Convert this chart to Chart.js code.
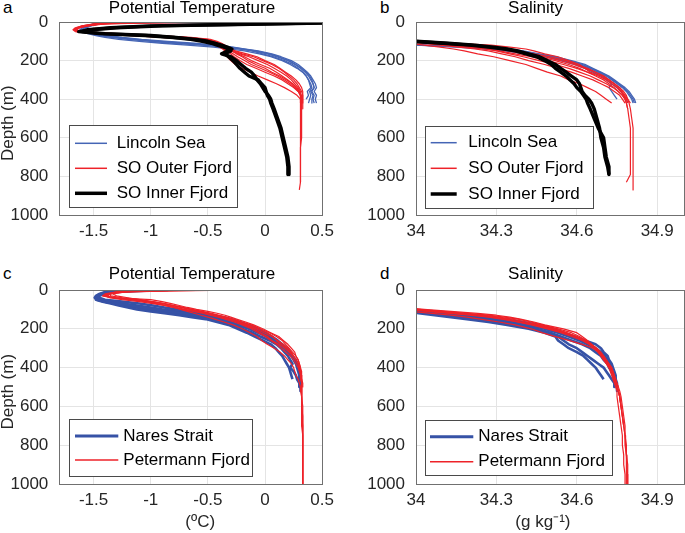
<!DOCTYPE html>
<html>
<head>
<meta charset="utf-8">
<script src="https://cdn.jsdelivr.net/npm/chart.js@4/dist/chart.umd.min.js"></script>
<style>
  html, body { margin:0; padding:0; background:#fff; }
  body { width:685px; height:533px; position:relative; overflow:hidden; font-family:"Liberation Sans", Arial, Helvetica, sans-serif; }
  canvas { position:absolute; }
  .letter { position:absolute; font-size:17px; line-height:17px; color:#000; }
</style>
</head>
<body>
<div class="letter" style="left:3px;top:-1px;">a</div>
<div class="letter" style="left:380px;top:-1px;">b</div>
<div class="letter" style="left:3px;top:265px;">c</div>
<div class="letter" style="left:380px;top:265px;">d</div>
<canvas id="ca" width="340" height="245" style="left:0;top:0;"></canvas>
<canvas id="cb" width="345" height="245" style="left:340px;top:0;"></canvas>
<canvas id="cc" width="340" height="283" style="left:0;top:250px;"></canvas>
<canvas id="cd" width="345" height="283" style="left:340px;top:250px;"></canvas>
<script>
// ---------- tick values / labels ----------
const depthTicks = [0, 200, 400, 600, 800, 1000];
const depthTickLabels = ['0', '200', '400', '600', '800', '1000'];
const tempTicks = [-1.5, -1, -0.5, 0, 0.5];
const tempTickLabels = ['-1.5', '-1', '-0.5', '0', '0.5'];
const salTicks = [34, 34.3, 34.6, 34.9];
const salTickLabels = ['34', '34.3', '34.6', '34.9'];

// ---------- titles / legend labels ----------
const titleTemp = 'Potential Temperature';
const titleSal = 'Salinity';
const labelsTop = ['Lincoln Sea', 'SO Outer Fjord', 'SO Inner Fjord'];
const labelsBottom = ['Nares Strait', 'Petermann Fjord'];

// ---------- depth grids (m) ----------
const depthTop = [0,5,10,20,30,40,50,60,70,80,90,100,110,120,130,140,150,165,180,200,220,240,260,280,300,320,340,360,380,400,420,450,500,550,600,650,700,750,790,830,870];
const depthLow = [0,5,10,20,30,40,50,60,70,80,90,100,110,120,130,140,150,165,180,200,220,240,260,280,300,320,340,360,380,400,420,440,460,480,500,520,550,600,650,700,750,800,850,900,950,1000];

// ---------- Panel a: potential temperature (degC) ----------
const lincolnTemp1 = [0.6,-1.35,-1.45,-1.52,-1.57,-1.6,-1.58,-1.52,-1.45,-1.35,-1.2,-1.0,-0.8,-0.55,-0.35,-0.22,-0.1,0.02,0.1,0.2,0.26,0.31,0.35,0.38,0.40,0.42,0.43,0.41,0.43,0.42,0.43];
const lincolnTemp2 = [-1.3,-1.4,-1.48,-1.55,-1.6,-1.62,-1.6,-1.55,-1.48,-1.4,-1.28,-1.1,-0.9,-0.68,-0.45,-0.3,-0.18,-0.05,0.05,0.15,0.22,0.28,0.33,0.36,0.38,0.40,0.41,0.39,0.40,0.39,0.38];
const lincolnTemp3 = [-1.4,-1.45,-1.5,-1.55,-1.58,-1.6,-1.56,-1.48,-1.38,-1.25,-1.08,-0.85,-0.62,-0.42,-0.28,-0.17,-0.06,0.06,0.14,0.23,0.29,0.33,0.37,0.40,0.42,0.44,0.45,0.43,0.45,0.44,0.45];
const lincolnTemp4 = [-1.25,-1.38,-1.46,-1.53,-1.57,-1.59,-1.57,-1.5,-1.42,-1.3,-1.15,-0.95,-0.72,-0.5,-0.32,-0.2,-0.12,-0.02,0.07,0.17,0.24,0.29,0.33,0.36,0.38,0.39,0.40,0.37,0.38,0.36];
const lincolnTemp5 = [-1.35,-1.42,-1.5,-1.56,-1.6,-1.61,-1.58,-1.5,-1.4,-1.28,-1.12,-0.92,-0.7,-0.48,-0.3,-0.18,-0.08,0.04,0.12,0.21,0.27,0.32,0.36,0.39,0.41,0.42,0.43,0.40,0.42,0.41,0.41];

const outerTemp1 = [-0.9,-1.3,-1.45,-1.58,-1.64,-1.67,-1.65,-1.45,-1.15,-0.85,-0.6,-0.5,-0.45,-0.42,-0.38,-0.34,-0.3,-0.22,-0.14,-0.06,0.02,0.08,0.14,0.19,0.23,0.26,0.29,0.31,0.31,0.31,0.31,0.31,0.31,0.31,0.31,0.31,0.31,0.31,0.31,0.31,0.30];
const outerTemp2 = [-1.2,-1.4,-1.5,-1.6,-1.66,-1.68,-1.66,-1.4,-1.05,-0.75,-0.55,-0.48,-0.44,-0.4,-0.37,-0.35,-0.33,-0.3,-0.27,-0.22,-0.16,-0.08,0.0,0.08,0.15,0.2,0.25,0.29,0.31,0.32,0.32,0.32,0.32,0.32,0.32,0.31,0.31,0.31,0.31,0.31];
const outerTemp3 = [0.0,-1.0,-1.4,-1.55,-1.62,-1.66,-1.62,-1.35,-1.0,-0.7,-0.5,-0.44,-0.4,-0.36,-0.33,-0.3,-0.27,-0.2,-0.1,-0.02,0.06,0.12,0.17,0.21,0.25,0.28,0.3,0.32,0.33,0.33,0.33];
const outerTemp4 = [-0.5,-1.2,-1.45,-1.57,-1.63,-1.66,-1.64,-1.5,-1.2,-0.9,-0.62,-0.52,-0.47,-0.43,-0.4,-0.37,-0.35,-0.34,-0.33,-0.3,-0.26,-0.2,-0.13,-0.06,0.02,0.1,0.17,0.23,0.28,0.31,0.32];
const outerTemp5 = [-1.1,-1.35,-1.48,-1.6,-1.65,-1.67,-1.63,-1.4,-1.1,-0.8,-0.58,-0.47,-0.42,-0.38,-0.34,-0.31,-0.28,-0.24,-0.18,-0.12,-0.04,0.04,0.1,0.15,0.2,0.24,0.27,0.3,0.32,0.32];
const outerTemp6 = [-0.3,-1.1,-1.42,-1.56,-1.62,-1.65,-1.6,-1.3,-0.95,-0.65,-0.48,-0.42,-0.38,-0.35,-0.32,-0.29,-0.26,-0.16,-0.07,0.0,0.08,0.13,0.18,0.23,0.27,0.3,0.32,0.33,0.33,0.33,0.33,0.33];
const outerTemp7 = [-1.0,-1.3,-1.47,-1.59,-1.64,-1.66,-1.64,-1.45,-1.12,-0.82,-0.57,-0.49,-0.46,-0.41,-0.39,-0.36,-0.32,-0.28,-0.24,-0.18,-0.12,-0.04,0.04,0.11,0.17,0.22,0.26,0.29,0.31,0.31,0.31];
const outerTemp8 = [-0.7,-1.25,-1.44,-1.57,-1.63,-1.66,-1.63,-1.38,-1.02,-0.72,-0.52,-0.45,-0.41,-0.37,-0.35,-0.32,-0.29,-0.25,-0.2,-0.15,-0.08,0.0,0.06,0.13,0.19,0.24,0.28,0.3,0.31,0.32,0.32];

const innerTemp1 = [0.8,0.5,0.0,-0.9,-1.3,-1.52,-1.63,-1.45,-1.05,-0.8,-0.65,-0.55,-0.47,-0.42,-0.36,-0.32,-0.3,-0.35,-0.32,-0.28,-0.25,-0.22,-0.18,-0.14,-0.06,-0.03,0.0,0.01,0.02,0.04,0.05,0.07,0.1,0.13,0.15,0.17,0.19,0.2,0.2];
const innerTemp2 = [0.8,0.4,-0.1,-1.0,-1.35,-1.55,-1.6,-1.4,-1.0,-0.78,-0.6,-0.5,-0.44,-0.38,-0.33,-0.29,-0.33,-0.38,-0.3,-0.25,-0.21,-0.17,-0.12,-0.09,-0.07,-0.04,-0.02,0.0,0.03,0.05,0.06,0.08,0.11,0.14,0.16,0.18,0.2,0.21,0.21];

// ---------- Panel b: salinity (g/kg) ----------
const lincolnSal1 = [31.8,32.1,32.4,32.8,33.0,33.2,33.35,33.5,33.6,33.7,33.8,33.88,33.95,34.02,34.2,34.3,34.37,34.44,34.5,34.56,34.61,34.65,34.68,34.71,34.73,34.75,34.77,34.785,34.795,34.805,34.81];
const lincolnSal2 = [31.8,32.1,32.4,32.8,33.0,33.2,33.35,33.5,33.6,33.7,33.8,33.88,33.94,34.0,34.15,34.26,34.33,34.41,34.48,34.54,34.59,34.63,34.66,34.69,34.71,34.73,34.75,34.765,34.775,34.785,34.79];
const lincolnSal3 = [31.8,32.1,32.4,32.8,33.0,33.2,33.35,33.5,33.6,33.7,33.8,33.88,33.96,34.04,34.24,34.33,34.39,34.45,34.51,34.57,34.62,34.655,34.685,34.715,34.735,34.755,34.775,34.79,34.8,34.81,34.815];
const lincolnSal4 = [31.8,32.1,32.4,32.8,33.0,33.2,33.35,33.5,33.6,33.7,33.8,33.88,33.95,34.01,34.18,34.28,34.35,34.43,34.49,34.55,34.6,34.64,34.67,34.7,34.72,34.73,34.72,34.73,34.74,34.75];
const lincolnSal5 = [32.0,32.2,32.5,32.8,33.0,33.2,33.35,33.5,33.6,33.7,33.8,33.88,33.95,34.03,34.25,34.34,34.4,34.46,34.52,34.58,34.63,34.66,34.69,34.72,34.74,34.76,34.78,34.795,34.805,34.815,34.82];

const outerSal1 = [32.0,32.3,32.6,32.9,33.1,33.3,33.45,33.6,33.72,33.82,33.92,33.98,34.08,34.17,34.25,34.31,34.36,34.42,34.48,34.54,34.59,34.63,34.67,34.7,34.72,34.74,34.76,34.77,34.78,34.79,34.795,34.8,34.805,34.81,34.81,34.81,34.81,34.81,34.81,34.81,34.81];
const outerSal2 = [32.0,32.3,32.6,32.9,33.1,33.3,33.45,33.6,33.72,33.82,33.9,33.96,34.04,34.12,34.2,34.26,34.31,34.37,34.43,34.49,34.55,34.6,34.64,34.67,34.7,34.72,34.74,34.755,34.77,34.78,34.785,34.79,34.795,34.8,34.8,34.8,34.8,34.8,34.8,34.785];
const outerSal3 = [32.2,32.5,32.8,33.1,33.3,33.5,33.62,33.74,33.84,33.92,33.97,34.0,34.14,34.28,34.35,34.41,34.44,34.48,34.53,34.57,34.61,34.63,34.65,34.69,34.72,34.74,34.76,34.775,34.785,34.79,34.8];
const outerSal4 = [32.0,32.2,32.5,32.8,33.0,33.2,33.35,33.5,33.62,33.72,33.82,33.9,33.97,34.03,34.09,34.14,34.18,34.23,34.29,34.35,34.41,34.45,34.49,34.54,34.57,34.61,34.64,34.67,34.69,34.71,34.73];
const outerSal5 = [32.1,32.4,32.7,33.0,33.2,33.4,33.55,33.68,33.78,33.87,33.94,34.0,34.1,34.2,34.27,34.33,34.38,34.44,34.5,34.56,34.6,34.64,34.67,34.7,34.72,34.74,34.755,34.765,34.775,34.78];
const outerSal6 = [32.1,32.4,32.7,33.0,33.2,33.4,33.55,33.68,33.78,33.87,33.94,34.0,34.06,34.13,34.2,34.26,34.3,34.35,34.4,34.46,34.52,34.57,34.61,34.65,34.68,34.71,34.735,34.755,34.77,34.78,34.785,34.79];
const outerSal7 = [32.0,32.3,32.6,32.9,33.1,33.3,33.45,33.6,33.72,33.82,33.9,33.97,34.05,34.16,34.24,34.3,34.35,34.4,34.46,34.52,34.57,34.61,34.64,34.68,34.71,34.73,34.75,34.765,34.775,34.785,34.79];
const outerSal8 = [32.0,32.3,32.6,32.9,33.1,33.3,33.45,33.6,33.72,33.82,33.9,33.95,34.02,34.09,34.16,34.22,34.27,34.32,34.37,34.42,34.48,34.53,34.58,34.62,34.66,34.69,34.72,34.74,34.76,34.77,34.78];

const innerSal1 = [32.6,32.7,32.8,33.0,33.2,33.35,33.5,33.62,33.72,33.82,33.92,33.99,34.1,34.2,34.27,34.33,34.37,34.41,34.45,34.48,34.505,34.52,34.54,34.56,34.575,34.59,34.6,34.615,34.625,34.635,34.64,34.65,34.665,34.68,34.70,34.705,34.71,34.72,34.72];
const innerSal2 = [32.6,32.7,32.8,33.0,33.2,33.35,33.5,33.62,33.72,33.82,33.9,34.0,34.12,34.22,34.29,34.34,34.38,34.42,34.46,34.49,34.52,34.54,34.56,34.58,34.6,34.61,34.615,34.62,34.63,34.645,34.655,34.665,34.675,34.685,34.69,34.7,34.705,34.715,34.72];

// ---------- Panel c: potential temperature (degC) ----------
const naresTemp1 = [-1.2,-1.3,-1.38,-1.44,-1.47,-1.48,-1.48,-1.42,-1.35,-1.28,-1.2,-1.12,-1.0,-0.88,-0.75,-0.64,-0.52,-0.42,-0.32,-0.24,-0.16,-0.09,-0.02,0.05,0.09,0.12,0.15,0.17,0.19,0.21,0.22,0.23,0.24];
const naresTemp2 = [-0.85,-1.1,-1.3,-1.4,-1.45,-1.47,-1.46,-1.4,-1.3,-1.18,-1.07,-0.96,-0.85,-0.72,-0.6,-0.5,-0.42,-0.32,-0.24,-0.14,-0.06,0.02,0.08,0.13,0.17,0.2,0.23,0.26,0.28,0.29,0.3,0.31,0.31,0.31,0.31,0.31];
const naresTemp3 = [-1.0,-1.2,-1.35,-1.42,-1.46,-1.45,-1.4,-1.25,-1.1,-0.98,-0.88,-0.78,-0.68,-0.58,-0.47,-0.36,-0.3,-0.22,-0.15,-0.06,0.0,0.06,0.11,0.15,0.19,0.22,0.24,0.27,0.28,0.29,0.3,0.3,0.31,0.31,0.31];
const naresTemp4 = [-1.1,-1.25,-1.35,-1.43,-1.46,-1.47,-1.45,-1.36,-1.25,-1.12,-1.0,-0.9,-0.78,-0.66,-0.55,-0.45,-0.37,-0.28,-0.2,-0.1,-0.02,0.04,0.1,0.14,0.18,0.21,0.23,0.25,0.27,0.28,0.29,0.3,0.3,0.31];
const naresTemp5 = [-1.26,-1.32,-1.4,-1.45,-1.48,-1.49,-1.47,-1.4,-1.32,-1.22,-1.12,-1.02,-0.92,-0.8,-0.66,-0.56,-0.46,-0.36,-0.28,-0.2,-0.11,-0.04,0.04,0.1,0.14,0.17,0.2,0.22,0.24,0.22,0.25,0.27,0.28,0.3,0.3];

const peterTemp1 = [-0.15,-0.8,-1.2,-1.38,-1.42,-1.3,-1.0,-0.9,-0.82,-0.75,-0.68,-0.6,-0.5,-0.42,-0.35,-0.3,-0.25,-0.17,-0.1,-0.02,0.05,0.12,0.16,0.2,0.23,0.26,0.27,0.29,0.3,0.31,0.31,0.32,0.32,0.32,0.32,0.32,0.32,0.33,0.33,0.33,0.33,0.33,0.33,0.33,0.33,0.33];
const peterTemp2 = [-0.5,-1.0,-1.25,-1.35,-1.38,-1.33,-1.2,-1.05,-0.95,-0.85,-0.77,-0.7,-0.6,-0.52,-0.45,-0.38,-0.32,-0.24,-0.16,-0.08,-0.01,0.06,0.11,0.16,0.2,0.23,0.25,0.27,0.29,0.3,0.31,0.31,0.32,0.32,0.32,0.32,0.32,0.32,0.33,0.33,0.33,0.33,0.33,0.33,0.33,0.33];
const peterTemp3 = [-1.0,-1.2,-1.3,-1.36,-1.35,-1.25,-1.1,-1.0,-0.9,-0.82,-0.74,-0.66,-0.58,-0.5,-0.42,-0.36,-0.3,-0.22,-0.15,-0.06,0.02,0.07,0.1,0.14,0.19,0.22,0.25,0.27,0.29,0.3,0.31,0.32,0.32,0.32,0.32,0.32,0.32,0.32];
const peterTemp4 = [-0.7,-1.1,-1.28,-1.33,-1.3,-1.2,-1.1,-1.02,-0.95,-0.88,-0.8,-0.74,-0.68,-0.62,-0.56,-0.5,-0.44,-0.36,-0.28,-0.2,-0.13,-0.07,-0.03,0.02,0.08,0.13,0.17,0.2,0.23,0.25,0.26,0.27,0.29,0.3,0.31,0.31,0.32,0.32,0.32,0.32,0.33,0.33,0.33,0.33,0.33,0.33];
const peterTemp5 = [-0.9,-1.15,-1.3,-1.4,-1.42,-1.35,-1.15,-1.0,-0.88,-0.8,-0.72,-0.64,-0.55,-0.47,-0.4,-0.34,-0.28,-0.2,-0.12,-0.04,0.04,0.1,0.15,0.18,0.21,0.24,0.27,0.29,0.3,0.31,0.32,0.32,0.32,0.33,0.33];
const peterTemp6 = [-0.3,-0.9,-1.22,-1.36,-1.4,-1.32,-1.12,-0.98,-0.88,-0.8,-0.72,-0.65,-0.57,-0.49,-0.42,-0.36,-0.3,-0.24,-0.18,-0.1,-0.04,0.02,0.06,0.12,0.17,0.21,0.24,0.27,0.29,0.3,0.31,0.31,0.32,0.32,0.32,0.32,0.32,0.32,0.32,0.33,0.33,0.33,0.33,0.33,0.33,0.33];
const peterTemp7 = [-0.6,-1.05,-1.27,-1.37,-1.4,-1.36,-1.25,-1.1,-0.98,-0.88,-0.8,-0.72,-0.63,-0.55,-0.48,-0.41,-0.35,-0.27,-0.2,-0.12,-0.06,0.0,0.05,0.1,0.14,0.18,0.22,0.25,0.27,0.29,0.3,0.31,0.31,0.32,0.32,0.32,0.32,0.32,0.32,0.32];

// ---------- Panel d: salinity (g/kg) ----------
const naresSal1 = [32.0,32.3,32.6,33.0,33.3,33.5,33.62,33.72,33.8,33.86,33.91,33.95,33.98,34.01,34.07,34.13,34.19,34.27,34.34,34.42,34.48,34.52,34.53,34.55,34.57,34.6,34.625,34.64,34.655,34.67,34.68,34.69,34.7];
const naresSal2 = [32.0,32.3,32.6,33.0,33.3,33.5,33.62,33.72,33.8,33.86,33.92,33.97,34.02,34.1,34.18,34.25,34.32,34.4,34.46,34.51,34.55,34.59,34.63,34.67,34.69,34.7,34.715,34.72,34.73,34.735,34.74,34.745,34.745,34.75,34.75,34.75];
const naresSal3 = [32.0,32.3,32.6,33.0,33.3,33.5,33.62,33.72,33.8,33.87,33.93,33.98,34.03,34.1,34.17,34.23,34.29,34.36,34.42,34.48,34.53,34.57,34.61,34.64,34.67,34.69,34.705,34.715,34.725,34.73,34.735,34.74,34.745,34.745,34.75];
const naresSal4 = [32.0,32.3,32.6,33.0,33.3,33.5,33.62,33.72,33.8,33.86,33.91,33.96,34.0,34.06,34.13,34.2,34.26,34.33,34.39,34.45,34.5,34.54,34.58,34.62,34.65,34.67,34.69,34.7,34.715,34.72,34.73,34.735,34.74,34.745];
const naresSal5 = [32.0,32.3,32.6,33.0,33.3,33.5,33.62,33.72,33.8,33.86,33.92,33.96,34.0,34.05,34.1,34.16,34.22,34.3,34.37,34.44,34.5,34.53,34.55,34.57,34.6,34.62,34.64,34.66,34.68,34.7,34.71,34.72,34.73,34.74,34.74];

const peterSal1 = [32.5,32.7,32.9,33.1,33.3,33.45,33.6,33.7,33.8,33.88,33.95,34.03,34.13,34.23,34.3,34.35,34.39,34.44,34.48,34.55,34.6,34.62,34.64,34.655,34.665,34.68,34.69,34.7,34.71,34.72,34.725,34.73,34.735,34.74,34.745,34.75,34.75,34.755,34.76,34.765,34.77,34.77,34.775,34.775,34.78,34.78];
const peterSal2 = [32.4,32.6,32.8,33.0,33.2,33.4,33.55,33.66,33.76,33.85,33.92,33.99,34.08,34.17,34.25,34.31,34.36,34.41,34.46,34.52,34.56,34.6,34.63,34.65,34.67,34.685,34.695,34.705,34.715,34.725,34.73,34.735,34.74,34.745,34.75,34.755,34.76,34.765,34.77,34.775,34.78,34.78,34.785,34.785,34.785,34.785];
const peterSal3 = [32.3,32.5,32.7,32.9,33.1,33.3,33.45,33.58,33.7,33.8,33.88,33.96,34.04,34.12,34.2,34.27,34.32,34.38,34.43,34.49,34.54,34.58,34.62,34.645,34.665,34.68,34.69,34.7,34.71,34.72,34.73,34.735,34.74,34.745,34.75,34.755,34.76,34.765];
const peterSal4 = [32.2,32.4,32.6,32.8,33.0,33.2,33.35,33.5,33.62,33.72,33.82,33.9,33.98,34.06,34.13,34.19,34.24,34.31,34.37,34.43,34.47,34.52,34.57,34.62,34.66,34.68,34.695,34.705,34.715,34.725,34.73,34.735,34.74,34.745,34.75,34.755,34.76,34.765,34.77,34.775,34.78,34.782,34.785,34.787,34.789,34.79];
const peterSal5 = [32.3,32.5,32.7,32.9,33.1,33.3,33.45,33.58,33.7,33.8,33.88,33.97,34.06,34.15,34.23,34.29,34.34,34.39,34.45,34.51,34.56,34.6,34.63,34.655,34.675,34.69,34.7,34.71,34.72,34.73,34.735,34.74,34.745,34.75,34.755];
const peterSal6 = [32.4,32.6,32.8,33.0,33.2,33.4,33.55,33.66,33.76,33.85,33.93,34.01,34.1,34.19,34.27,34.33,34.38,34.43,34.47,34.53,34.58,34.61,34.635,34.655,34.67,34.685,34.7,34.71,34.72,34.73,34.735,34.74,34.745,34.75,34.755,34.76,34.765,34.77,34.775,34.78,34.78,34.785,34.785,34.79,34.79,34.79];
const peterSal7 = [32.3,32.5,32.7,32.9,33.1,33.3,33.45,33.58,33.7,33.8,33.9,33.98,34.07,34.15,34.22,34.28,34.33,34.38,34.44,34.5,34.55,34.59,34.625,34.65,34.67,34.68,34.695,34.705,34.715,34.72,34.73,34.735,34.74,34.745,34.75,34.755,34.76,34.765,34.77,34.775];

// ---------- styles ----------
const FONT = '"Liberation Sans", Arial, Helvetica, sans-serif';
const COL_LINCOLN = '#4565b5';
const COL_NARES = '#3652a6';
const COL_RED = '#ee2229';
const COL_BLACK = '#000000';
const TICK_COLOR = '#262626';
const GRID_COLOR = '#e4e4e4';
const FRAME_COLOR = '#707070';

Chart.defaults.font.family = FONT;

function profiles(list, depths, color, width, order, label) {
  return list.map((vals, k) => ({
    label: k === 0 ? label : label + ' ' + (k + 1),
    data: vals.map((v, i) => ({ x: v, y: depths[i] })),
    borderColor: color,
    backgroundColor: color,
    borderWidth: width,
    pointRadius: 0,
    pointHoverRadius: 0,
    showLine: true,
    fill: false,
    tension: 0,
    borderJoinStyle: 'round',
    order: order
  }));
}

const framePlugin = {
  id: 'frameAndLegend',
  afterDatasetsDraw(chart, args, opts) {
    const ctx = chart.ctx, ca = chart.chartArea;
    ctx.save();
    const l = Math.round(ca.left), t = Math.round(ca.top), r = Math.round(ca.right), b = Math.round(ca.bottom);
    ctx.strokeStyle = FRAME_COLOR; ctx.lineWidth = 1;
    ctx.strokeRect(l + 0.5, t + 0.5, r - l, b - t);
    // panel title
    if (opts.title) {
      ctx.fillStyle = '#000';
      ctx.font = '17px ' + FONT;
      ctx.textAlign = 'center';
      ctx.textBaseline = 'middle';
      ctx.fillText(opts.title.text, opts.title.cx, opts.title.cy);
    }
    // legend box
    const lg = opts.legend;
    if (lg) {
      ctx.fillStyle = '#ffffff';
      ctx.fillRect(lg.x, lg.y, lg.w, lg.h);
      ctx.strokeStyle = '#4a4a4a';
      ctx.lineWidth = 1;
      ctx.strokeRect(Math.round(lg.x) + 0.5, Math.round(lg.y) + 0.5, Math.round(lg.w), Math.round(lg.h));
      ctx.font = '17px ' + FONT;
      ctx.textBaseline = 'middle';
      ctx.textAlign = 'left';
      lg.items.forEach((it, i) => {
        const cy = lg.y + lg.rows[i];
        ctx.strokeStyle = it.color; ctx.lineWidth = it.width; ctx.lineCap = 'butt';
        ctx.beginPath(); ctx.moveTo(lg.x + lg.s0, cy); ctx.lineTo(lg.x + lg.s1, cy); ctx.stroke();
        ctx.fillStyle = '#000';
        ctx.fillText(it.text, lg.x + lg.tx, cy);
      });
    }
    ctx.restore();
  }
};

function makeChart(id, cfg) {
  const tickFont = { size: 17, family: FONT };
  return new Chart(document.getElementById(id), {
    type: 'scatter',
    data: { datasets: cfg.datasets },
    plugins: [framePlugin],
    options: {
      responsive: false,
      animation: false,
      devicePixelRatio: 1,
      events: [],
      layout: { padding: { top: cfg.padTop, left: 0, right: cfg.padRight, bottom: 0 } },
      plugins: {
        legend: { display: false },
        tooltip: { enabled: false },
        title: { display: false },
        frameAndLegend: { legend: cfg.legend, title: cfg.title }
      },
      scales: {
        x: {
          type: 'linear', position: 'bottom', min: cfg.xMin, max: cfg.xMax,
          afterBuildTicks: s => { s.ticks = cfg.xTicks.map(v => ({ value: v })); },
          afterFit: s => { s.height = cfg.xAxisH; },
          ticks: { autoSkip: false, maxRotation: 0, font: tickFont, color: TICK_COLOR, padding: 6, callback: (v, i) => cfg.xLabels[i] },
          grid: { color: GRID_COLOR, lineWidth: 1, drawTicks: false },
          border: { display: false },
          title: cfg.xTitle ? { display: true, text: cfg.xTitle, color: TICK_COLOR, font: { size: 17, lineHeight: 1 }, padding: { top: 0, bottom: 2 } } : { display: false }
        },
        y: {
          type: 'linear', position: 'left', reverse: true, min: 0, max: 1000,
          afterBuildTicks: s => { s.ticks = depthTicks.map(v => ({ value: v })); },
          afterFit: s => { s.width = cfg.yAxisW; },
          ticks: { autoSkip: false, font: tickFont, color: TICK_COLOR, padding: 11, callback: (v, i) => depthTickLabels[i] },
          grid: { color: GRID_COLOR, lineWidth: 1, drawTicks: false },
          border: { display: false },
          title: cfg.yTitle ? { display: true, text: cfg.yTitle, color: TICK_COLOR, font: { size: 17, lineHeight: 1 }, padding: { top: 0, bottom: 0 } } : { display: false }
        }
      }
    }
  });
}

const topItems = [
  { text: labelsTop[0], color: COL_LINCOLN, width: 1.5 },
  { text: labelsTop[1], color: COL_RED, width: 1.5 },
  { text: labelsTop[2], color: COL_BLACK, width: 3.5 }
];
const lowItems = [
  { text: labelsBottom[0], color: COL_NARES, width: 3 },
  { text: labelsBottom[1], color: COL_RED, width: 1.5 }
];

// Panel a
makeChart('ca', {
  title: { text: titleTemp, cx: 192, cy: 8 }, padTop: 22, padRight: 12, yAxisW: 59.3, xAxisH: 30,
  xMin: -1.8, xMax: 0.5, xTicks: tempTicks, xLabels: tempTickLabels, yTitle: 'Depth (m)  ', xTitle: null,
  datasets: [].concat(
    profiles([innerTemp1, innerTemp2], depthTop, COL_BLACK, 3.4, 0, labelsTop[2]),
    profiles([outerTemp1, outerTemp2, outerTemp3, outerTemp4, outerTemp5, outerTemp6, outerTemp7, outerTemp8], depthTop, COL_RED, 1.2, 1, labelsTop[1]),
    profiles([lincolnTemp1, lincolnTemp2, lincolnTemp3, lincolnTemp4, lincolnTemp5], depthTop, COL_LINCOLN, 1.3, 2, labelsTop[0])
  ),
  legend: { x: 69, y: 125, w: 168, h: 82, rows: [18.3, 43.3, 68.3], s0: 6, s1: 38, tx: 47.7, items: topItems }
});

// Panel b
makeChart('cb', {
  title: { text: titleSal, cx: 195.5, cy: 8 }, padTop: 22, padRight: 1, yAxisW: 76, xAxisH: 30,
  xMin: 34, xMax: 35, xTicks: salTicks, xLabels: salTickLabels, yTitle: null, xTitle: null,
  datasets: [].concat(
    profiles([innerSal1, innerSal2], depthTop, COL_BLACK, 3.4, 0, labelsTop[2]),
    profiles([outerSal1, outerSal2, outerSal3, outerSal4, outerSal5, outerSal6, outerSal7, outerSal8], depthTop, COL_RED, 1.2, 1, labelsTop[1]),
    profiles([lincolnSal1, lincolnSal2, lincolnSal3, lincolnSal4, lincolnSal5], depthTop, COL_LINCOLN, 1.3, 2, labelsTop[0])
  ),
  legend: { x: 85, y: 126, w: 168, h: 82, rows: [16.7, 42.3, 68], s0: 5.7, s1: 31.7, tx: 43.3, items: topItems }
});

// Panel c
makeChart('cc', {
  title: { text: titleTemp, cx: 192, cy: 24 }, padTop: 40, padRight: 12, yAxisW: 59.3, xAxisH: 49,
  xMin: -1.8, xMax: 0.5, xTicks: tempTicks, xLabels: tempTickLabels, yTitle: 'Depth (m)  ', xTitle: '    (ºC)',
  datasets: [].concat(
    profiles([peterTemp1, peterTemp2, peterTemp3, peterTemp4, peterTemp5, peterTemp6, peterTemp7], depthLow, COL_RED, 1.2, 0, labelsBottom[1]),
    profiles([naresTemp1, naresTemp2, naresTemp3, naresTemp4, naresTemp5], depthLow, COL_NARES, 2.6, 1, labelsBottom[0])
  ),
  legend: { x: 69, y: 169.3, w: 182.7, h: 56.7, rows: [16.7, 40.7], s0: 6, s1: 49.3, tx: 54.3, items: lowItems }
});

// Panel d
makeChart('cd', {
  title: { text: titleSal, cx: 195.5, cy: 24 }, padTop: 40, padRight: 1, yAxisW: 76, xAxisH: 49,
  xMin: 34, xMax: 35, xTicks: salTicks, xLabels: salTickLabels, yTitle: null, xTitle: '(g kg⁻¹)   ',
  datasets: [].concat(
    profiles([peterSal1, peterSal2, peterSal3, peterSal4, peterSal5, peterSal6, peterSal7], depthLow, COL_RED, 1.2, 0, labelsBottom[1]),
    profiles([naresSal1, naresSal2, naresSal3, naresSal4, naresSal5], depthLow, COL_NARES, 2.6, 1, labelsBottom[0])
  ),
  legend: { x: 85, y: 170, w: 186.7, h: 55, rows: [16.7, 41.7], s0: 5, s1: 48.3, tx: 53.3, items: lowItems }
});
</script>
</body>
</html>
